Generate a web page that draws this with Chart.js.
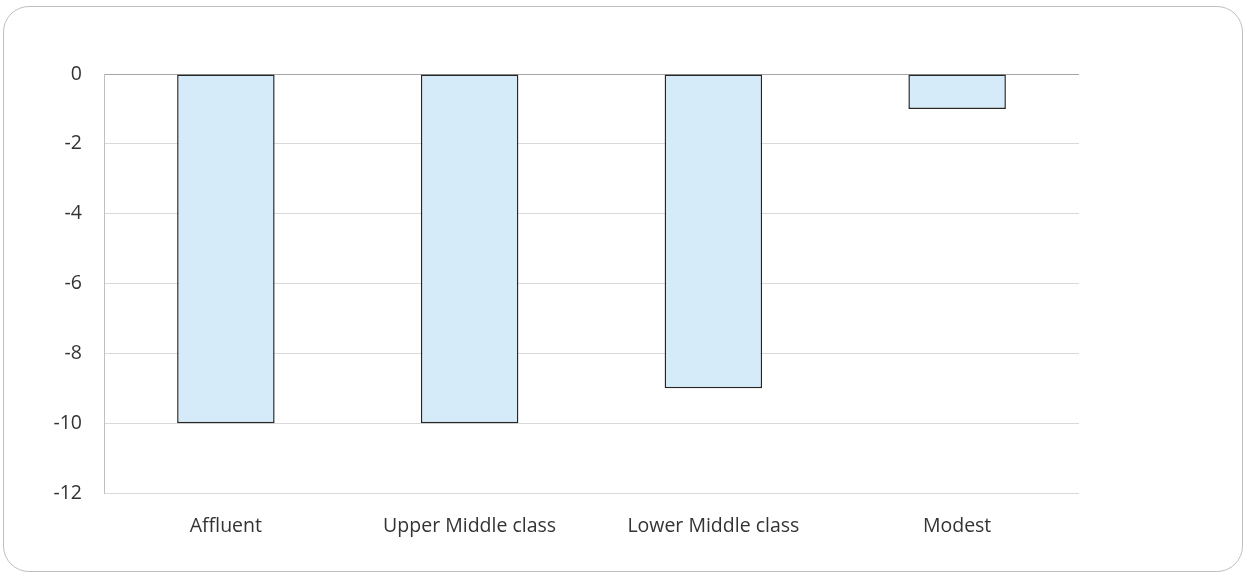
<!DOCTYPE html>
<html>
<head>
<meta charset="utf-8">
<script src="https://cdn.jsdelivr.net/npm/chart.js@4/dist/chart.umd.min.js"></script>
<style>
  html, body { margin: 0; padding: 0; background: #fff; }
  #wrap { position: relative; width: 1245px; height: 574px; }
  #frame {
    position: absolute; left: 3px; top: 6px; width: 1238px; height: 564px;
    border: 1px solid #bfbfbf; border-radius: 26px;
  }
  canvas { position: absolute; left: 0; top: 0; }
</style>
</head>
<body>
<div id="wrap">
  <div id="frame"></div>
  <canvas id="chart" width="1245" height="574"></canvas>
</div>
<script>
const categories = ['Affluent', 'Upper Middle class', 'Lower Middle class', 'Modest'];
const values = [-10, -10, -9, -1];
const yMin = -12;
const yMax = 0;
const yStep = 2;

const ctx = document.getElementById('chart').getContext('2d');
new Chart(ctx, {
  type: 'bar',
  data: {
    labels: categories,
    datasets: [{
      data: values,
      backgroundColor: '#d5ebf9',
      borderColor: '#262626',
      borderWidth: 1.5,
      borderSkipped: false,
      barPercentage: 0.8,
      categoryPercentage: 0.5
    }]
  },
  options: {
    responsive: false,
    animation: false,
    layout: { padding: { top: 74, right: 166, left: 0, bottom: 0 } },
    plugins: { legend: { display: false }, tooltip: { enabled: false } },
    scales: {
      x: {
        grid: { display: false },
        border: { display: false },
        ticks: {
          padding: 14,
          color: '#333333',
          font: { family: 'Open Sans', size: 19.5 }
        },
        afterFit: (s) => { s.height = 81; }
      },
      y: {
        min: yMin,
        max: yMax,
        ticks: {
          stepSize: yStep,
          padding: 22,
          color: '#333333',
          font: { family: 'Open Sans', size: 19.5 }
        },
        grid: {
          drawTicks: false,
          color: (c) => (c.tick && c.tick.value === 0) ? '#a6a6a6' : '#d9d9d9',
          lineWidth: 1
        },
        border: { display: true, color: '#bfbfbf' },
        afterFit: (s) => { s.width = 104; }
      }
    }
  }
});
</script>
</body>
</html>
